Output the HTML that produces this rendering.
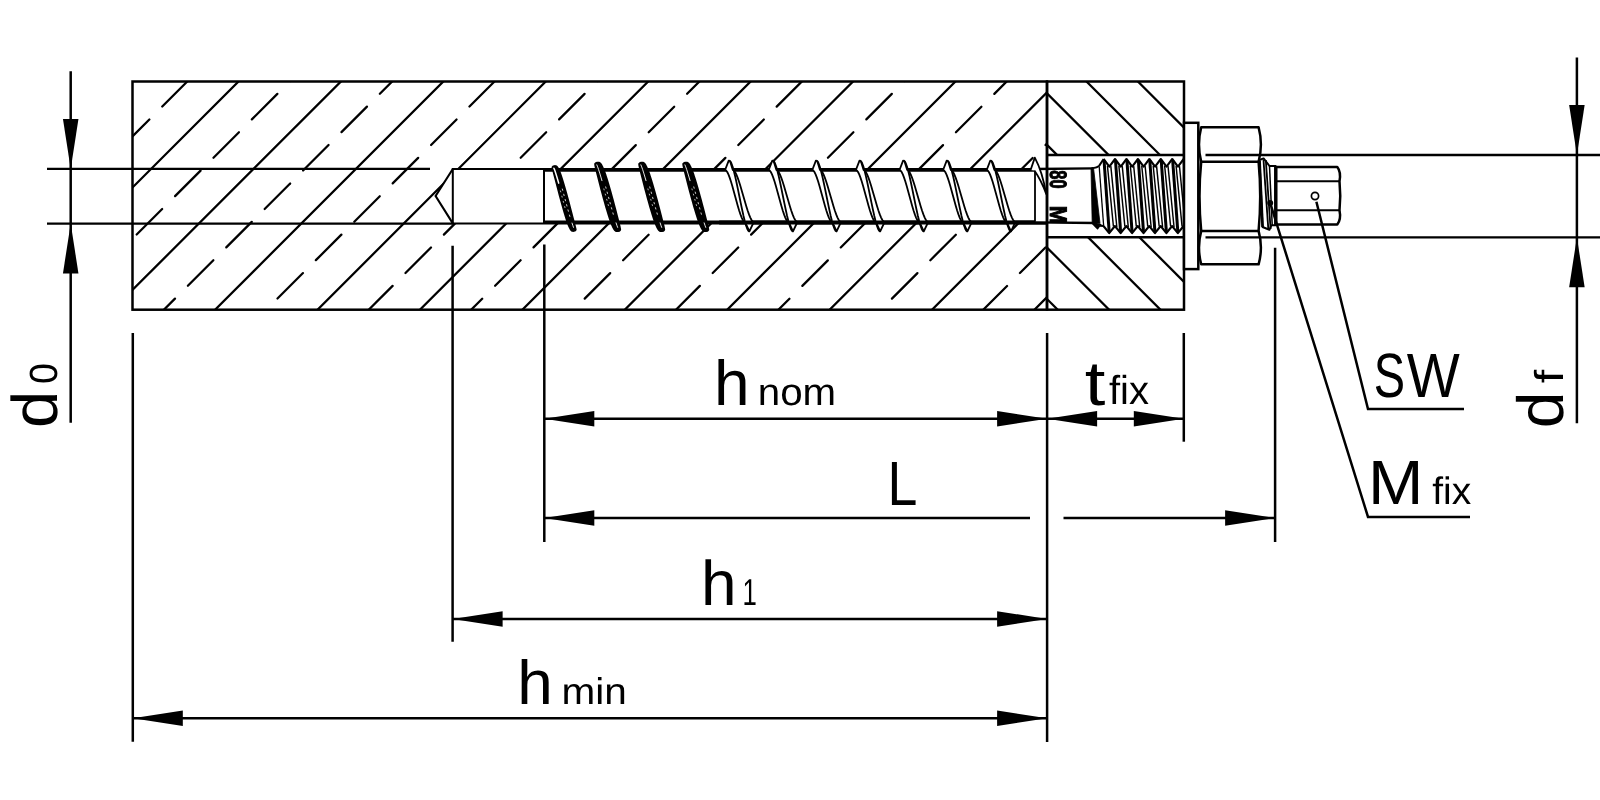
<!DOCTYPE html>
<html lang="en"><head><meta charset="utf-8"><title>Anchor installation parameters</title>
<style>html,body{margin:0;padding:0;background:#fff}svg{display:block;will-change:transform}text{font-family:"Liberation Sans",sans-serif;fill:#000;stroke:none;text-rendering:geometricPrecision}</style>
</head><body>
<svg width="1600" height="800" viewBox="0 0 1600 800" stroke="#000" fill="none" stroke-linecap="butt">
<rect x="0" y="0" width="1600" height="800" fill="#fff" stroke="none"/>
<defs>
<clipPath id="cc"><path clip-rule="evenodd" d="M132.5,81.5H1047.0V309.7H132.5Z M435.6,196.0L452.8,169.0H1047.0V223.4H452.8Z"/></clipPath>
<clipPath id="cf"><path clip-rule="evenodd" d="M1047.0,81.5H1184.0V309.7H1047.0Z M1047.0,155.0H1184.0V237.2H1047.0Z"/></clipPath>
</defs>
<g clip-path="url(#cc)" stroke-linecap="round">
<line x1="5.30" y1="314.70" x2="243.50" y2="76.50" stroke-width="2.25"/>
<line x1="107.72" y1="314.70" x2="345.92" y2="76.50" stroke-width="2.25"/>
<line x1="210.14" y1="314.70" x2="448.34" y2="76.50" stroke-width="2.25"/>
<line x1="312.56" y1="314.70" x2="550.76" y2="76.50" stroke-width="2.25"/>
<line x1="414.98" y1="314.70" x2="653.18" y2="76.50" stroke-width="2.25"/>
<line x1="517.40" y1="314.70" x2="755.60" y2="76.50" stroke-width="2.25"/>
<line x1="619.82" y1="314.70" x2="858.02" y2="76.50" stroke-width="2.25"/>
<line x1="722.24" y1="314.70" x2="960.44" y2="76.50" stroke-width="2.25"/>
<line x1="824.66" y1="314.70" x2="1062.86" y2="76.50" stroke-width="2.25"/>
<line x1="927.08" y1="314.70" x2="1165.28" y2="76.50" stroke-width="2.25"/>
<line x1="1029.50" y1="314.70" x2="1267.70" y2="76.50" stroke-width="2.25"/>
<line x1="-285.77" y1="349.73" x2="-260.27" y2="324.23" stroke-width="2.25"/>
<line x1="-247.37" y1="311.32" x2="-221.87" y2="285.82" stroke-width="2.25"/>
<line x1="-208.97" y1="272.93" x2="-183.47" y2="247.43" stroke-width="2.25"/>
<line x1="-170.57" y1="234.53" x2="-145.07" y2="209.03" stroke-width="2.25"/>
<line x1="-132.17" y1="196.12" x2="-106.67" y2="170.62" stroke-width="2.25"/>
<line x1="-93.77" y1="157.73" x2="-68.27" y2="132.23" stroke-width="2.25"/>
<line x1="-55.37" y1="119.33" x2="-29.87" y2="93.83" stroke-width="2.25"/>
<line x1="-16.97" y1="80.92" x2="8.53" y2="55.42" stroke-width="2.25"/>
<line x1="21.43" y1="42.53" x2="46.93" y2="17.03" stroke-width="2.25"/>
<line x1="-196.16" y1="362.53" x2="-170.66" y2="337.03" stroke-width="2.25"/>
<line x1="-157.76" y1="324.13" x2="-132.26" y2="298.63" stroke-width="2.25"/>
<line x1="-119.37" y1="285.74" x2="-93.87" y2="260.24" stroke-width="2.25"/>
<line x1="-80.96" y1="247.33" x2="-55.46" y2="221.83" stroke-width="2.25"/>
<line x1="-42.56" y1="208.94" x2="-17.06" y2="183.44" stroke-width="2.25"/>
<line x1="-4.16" y1="170.53" x2="21.34" y2="145.03" stroke-width="2.25"/>
<line x1="34.24" y1="132.13" x2="59.74" y2="106.63" stroke-width="2.25"/>
<line x1="72.64" y1="93.73" x2="98.14" y2="68.23" stroke-width="2.25"/>
<line x1="111.03" y1="55.34" x2="136.53" y2="29.84" stroke-width="2.25"/>
<line x1="-106.55" y1="375.35" x2="-81.05" y2="349.85" stroke-width="2.25"/>
<line x1="-68.16" y1="336.95" x2="-42.66" y2="311.45" stroke-width="2.25"/>
<line x1="-29.75" y1="298.54" x2="-4.25" y2="273.04" stroke-width="2.25"/>
<line x1="8.65" y1="260.14" x2="34.15" y2="234.65" stroke-width="2.25"/>
<line x1="47.05" y1="221.75" x2="72.55" y2="196.25" stroke-width="2.25"/>
<line x1="85.45" y1="183.34" x2="110.95" y2="157.84" stroke-width="2.25"/>
<line x1="123.85" y1="144.94" x2="149.35" y2="119.45" stroke-width="2.25"/>
<line x1="162.25" y1="106.55" x2="187.75" y2="81.05" stroke-width="2.25"/>
<line x1="200.65" y1="68.15" x2="226.15" y2="42.65" stroke-width="2.25"/>
<line x1="21.46" y1="349.75" x2="46.96" y2="324.25" stroke-width="2.25"/>
<line x1="59.86" y1="311.36" x2="85.36" y2="285.86" stroke-width="2.25"/>
<line x1="98.26" y1="272.96" x2="123.76" y2="247.46" stroke-width="2.25"/>
<line x1="136.66" y1="234.56" x2="162.16" y2="209.06" stroke-width="2.25"/>
<line x1="175.06" y1="196.16" x2="200.56" y2="170.66" stroke-width="2.25"/>
<line x1="213.46" y1="157.76" x2="238.96" y2="132.26" stroke-width="2.25"/>
<line x1="251.86" y1="119.36" x2="277.36" y2="93.86" stroke-width="2.25"/>
<line x1="290.25" y1="80.96" x2="315.75" y2="55.46" stroke-width="2.25"/>
<line x1="328.66" y1="42.56" x2="354.16" y2="17.06" stroke-width="2.25"/>
<line x1="111.06" y1="362.56" x2="136.56" y2="337.06" stroke-width="2.25"/>
<line x1="149.47" y1="324.16" x2="174.97" y2="298.66" stroke-width="2.25"/>
<line x1="187.87" y1="285.76" x2="213.37" y2="260.26" stroke-width="2.25"/>
<line x1="226.26" y1="247.37" x2="251.76" y2="221.87" stroke-width="2.25"/>
<line x1="264.67" y1="208.97" x2="290.17" y2="183.47" stroke-width="2.25"/>
<line x1="303.06" y1="170.56" x2="328.56" y2="145.06" stroke-width="2.25"/>
<line x1="341.47" y1="132.16" x2="366.97" y2="106.66" stroke-width="2.25"/>
<line x1="379.87" y1="93.76" x2="405.37" y2="68.26" stroke-width="2.25"/>
<line x1="418.26" y1="55.37" x2="443.76" y2="29.87" stroke-width="2.25"/>
<line x1="200.67" y1="375.38" x2="226.17" y2="349.88" stroke-width="2.25"/>
<line x1="239.07" y1="336.97" x2="264.57" y2="311.47" stroke-width="2.25"/>
<line x1="277.47" y1="298.57" x2="302.97" y2="273.07" stroke-width="2.25"/>
<line x1="315.88" y1="260.17" x2="341.38" y2="234.67" stroke-width="2.25"/>
<line x1="354.27" y1="221.77" x2="379.77" y2="196.27" stroke-width="2.25"/>
<line x1="392.67" y1="183.37" x2="418.17" y2="157.87" stroke-width="2.25"/>
<line x1="431.07" y1="144.97" x2="456.57" y2="119.47" stroke-width="2.25"/>
<line x1="469.47" y1="106.57" x2="494.97" y2="81.07" stroke-width="2.25"/>
<line x1="507.88" y1="68.17" x2="533.38" y2="42.67" stroke-width="2.25"/>
<line x1="328.69" y1="349.79" x2="354.19" y2="324.29" stroke-width="2.25"/>
<line x1="367.09" y1="311.38" x2="392.59" y2="285.88" stroke-width="2.25"/>
<line x1="405.49" y1="272.99" x2="430.99" y2="247.49" stroke-width="2.25"/>
<line x1="443.88" y1="234.59" x2="469.38" y2="209.09" stroke-width="2.25"/>
<line x1="482.29" y1="196.19" x2="507.79" y2="170.69" stroke-width="2.25"/>
<line x1="520.68" y1="157.79" x2="546.18" y2="132.29" stroke-width="2.25"/>
<line x1="559.09" y1="119.39" x2="584.59" y2="93.89" stroke-width="2.25"/>
<line x1="597.49" y1="80.99" x2="622.99" y2="55.49" stroke-width="2.25"/>
<line x1="635.88" y1="42.59" x2="661.38" y2="17.09" stroke-width="2.25"/>
<line x1="418.30" y1="362.60" x2="443.80" y2="337.10" stroke-width="2.25"/>
<line x1="456.70" y1="324.20" x2="482.20" y2="298.70" stroke-width="2.25"/>
<line x1="495.10" y1="285.80" x2="520.60" y2="260.30" stroke-width="2.25"/>
<line x1="533.50" y1="247.40" x2="559.00" y2="221.90" stroke-width="2.25"/>
<line x1="571.89" y1="209.00" x2="597.39" y2="183.50" stroke-width="2.25"/>
<line x1="610.30" y1="170.60" x2="635.80" y2="145.10" stroke-width="2.25"/>
<line x1="648.70" y1="132.20" x2="674.20" y2="106.70" stroke-width="2.25"/>
<line x1="687.10" y1="93.80" x2="712.60" y2="68.30" stroke-width="2.25"/>
<line x1="725.50" y1="55.40" x2="751.00" y2="29.90" stroke-width="2.25"/>
<line x1="507.90" y1="375.40" x2="533.40" y2="349.90" stroke-width="2.25"/>
<line x1="546.30" y1="337.00" x2="571.80" y2="311.50" stroke-width="2.25"/>
<line x1="584.70" y1="298.60" x2="610.20" y2="273.10" stroke-width="2.25"/>
<line x1="623.11" y1="260.20" x2="648.61" y2="234.70" stroke-width="2.25"/>
<line x1="661.50" y1="221.80" x2="687.00" y2="196.30" stroke-width="2.25"/>
<line x1="699.90" y1="183.40" x2="725.40" y2="157.90" stroke-width="2.25"/>
<line x1="738.30" y1="145.00" x2="763.80" y2="119.50" stroke-width="2.25"/>
<line x1="776.70" y1="106.60" x2="802.20" y2="81.10" stroke-width="2.25"/>
<line x1="815.11" y1="68.20" x2="840.61" y2="42.70" stroke-width="2.25"/>
<line x1="635.91" y1="349.81" x2="661.41" y2="324.31" stroke-width="2.25"/>
<line x1="674.32" y1="311.42" x2="699.82" y2="285.92" stroke-width="2.25"/>
<line x1="712.72" y1="273.01" x2="738.22" y2="247.52" stroke-width="2.25"/>
<line x1="751.12" y1="234.62" x2="776.62" y2="209.12" stroke-width="2.25"/>
<line x1="789.51" y1="196.22" x2="815.01" y2="170.72" stroke-width="2.25"/>
<line x1="827.91" y1="157.81" x2="853.41" y2="132.31" stroke-width="2.25"/>
<line x1="866.32" y1="119.42" x2="891.82" y2="93.92" stroke-width="2.25"/>
<line x1="904.71" y1="81.02" x2="930.21" y2="55.52" stroke-width="2.25"/>
<line x1="943.12" y1="42.62" x2="968.62" y2="17.12" stroke-width="2.25"/>
<line x1="725.53" y1="362.63" x2="751.03" y2="337.13" stroke-width="2.25"/>
<line x1="763.93" y1="324.23" x2="789.43" y2="298.73" stroke-width="2.25"/>
<line x1="802.33" y1="285.83" x2="827.83" y2="260.33" stroke-width="2.25"/>
<line x1="840.73" y1="247.43" x2="866.23" y2="221.93" stroke-width="2.25"/>
<line x1="879.12" y1="209.03" x2="904.62" y2="183.53" stroke-width="2.25"/>
<line x1="917.53" y1="170.63" x2="943.03" y2="145.13" stroke-width="2.25"/>
<line x1="955.92" y1="132.23" x2="981.42" y2="106.73" stroke-width="2.25"/>
<line x1="994.33" y1="93.83" x2="1019.83" y2="68.33" stroke-width="2.25"/>
<line x1="1032.72" y1="55.43" x2="1058.22" y2="29.93" stroke-width="2.25"/>
<line x1="815.13" y1="375.43" x2="840.63" y2="349.93" stroke-width="2.25"/>
<line x1="853.53" y1="337.03" x2="879.03" y2="311.53" stroke-width="2.25"/>
<line x1="891.93" y1="298.63" x2="917.43" y2="273.13" stroke-width="2.25"/>
<line x1="930.34" y1="260.23" x2="955.84" y2="234.73" stroke-width="2.25"/>
<line x1="968.73" y1="221.83" x2="994.23" y2="196.33" stroke-width="2.25"/>
<line x1="1007.13" y1="183.44" x2="1032.63" y2="157.94" stroke-width="2.25"/>
<line x1="1045.53" y1="145.03" x2="1071.03" y2="119.53" stroke-width="2.25"/>
<line x1="1083.93" y1="106.63" x2="1109.43" y2="81.13" stroke-width="2.25"/>
<line x1="1122.34" y1="68.24" x2="1147.84" y2="42.74" stroke-width="2.25"/>
<line x1="943.14" y1="349.85" x2="968.64" y2="324.35" stroke-width="2.25"/>
<line x1="981.55" y1="311.44" x2="1007.05" y2="285.94" stroke-width="2.25"/>
<line x1="1019.94" y1="273.05" x2="1045.44" y2="247.55" stroke-width="2.25"/>
<line x1="1058.35" y1="234.65" x2="1083.85" y2="209.15" stroke-width="2.25"/>
<line x1="1096.74" y1="196.25" x2="1122.24" y2="170.75" stroke-width="2.25"/>
<line x1="1135.14" y1="157.85" x2="1160.64" y2="132.35" stroke-width="2.25"/>
<line x1="1173.55" y1="119.45" x2="1199.05" y2="93.95" stroke-width="2.25"/>
<line x1="1211.95" y1="81.04" x2="1237.45" y2="55.54" stroke-width="2.25"/>
<line x1="1250.35" y1="42.64" x2="1275.85" y2="17.14" stroke-width="2.25"/>
</g>
<g clip-path="url(#cf)">
<line x1="824.50" y1="76.50" x2="1062.70" y2="314.70" stroke-width="2.25"/>
<line x1="875.90" y1="76.50" x2="1114.10" y2="314.70" stroke-width="2.25"/>
<line x1="927.30" y1="76.50" x2="1165.50" y2="314.70" stroke-width="2.25"/>
<line x1="978.70" y1="76.50" x2="1216.90" y2="314.70" stroke-width="2.25"/>
<line x1="1030.10" y1="76.50" x2="1268.30" y2="314.70" stroke-width="2.25"/>
<line x1="1081.50" y1="76.50" x2="1319.70" y2="314.70" stroke-width="2.25"/>
<line x1="1132.90" y1="76.50" x2="1371.10" y2="314.70" stroke-width="2.25"/>
<line x1="1184.30" y1="76.50" x2="1422.50" y2="314.70" stroke-width="2.25"/>
</g>
<rect x="132.5" y="81.5" width="914.5" height="228.2" stroke-width="2.5"/>
<rect x="1047.0" y="81.5" width="137.0" height="228.2" stroke-width="2.5"/>
<line x1="1047.00" y1="155.00" x2="1184.00" y2="155.00" stroke-width="2.5"/>
<line x1="1047.00" y1="237.20" x2="1184.00" y2="237.20" stroke-width="2.5"/>
<path d="M1047.0,169.0H452.8V223.4H1047.0" stroke-width="2.0" fill="none"/>
<path d="M452.8,169.0L435.6,196.0L452.8,223.4" stroke-width="2.1" fill="none" stroke-linejoin="miter"/>
<line x1="47.00" y1="168.80" x2="430.00" y2="168.80" stroke-width="2.3"/>
<line x1="47.00" y1="223.70" x2="452.80" y2="223.70" stroke-width="2.3"/>
<path d="M544.0,169.0V223.4" stroke-width="2.0" fill="none"/>
<line x1="544.00" y1="170.40" x2="1035.00" y2="170.40" stroke-width="2.5"/>
<line x1="544.00" y1="221.80" x2="1035.00" y2="221.80" stroke-width="2.5"/>
<line x1="1035.00" y1="170.40" x2="1035.00" y2="221.80" stroke-width="1.8"/>
<line x1="1035.00" y1="169.00" x2="1093.00" y2="168.40" stroke-width="2.3"/>
<line x1="1035.00" y1="222.30" x2="1095.00" y2="223.00" stroke-width="2.3"/>
<path d="M553.30,166.78 L552.86,167.26 L553.01,168.15 L553.35,169.56 L553.83,171.46 L554.44,173.82 L555.16,176.60 L555.98,179.77 L556.88,183.26 L557.86,187.02 L558.90,190.98 L559.98,195.08 L561.10,199.25 L562.24,203.41 L563.38,207.50 L564.52,211.44 L565.64,215.16 L566.72,218.61 L567.77,221.72 L568.77,224.43 L569.72,226.71 L570.61,228.50 L571.45,229.78 L572.28,230.51 L573.50,230.58 L574.90,230.22 L575.34,229.74 L575.19,228.85 L574.85,227.44 L574.37,225.54 L573.76,223.18 L573.04,220.40 L572.22,217.23 L571.32,213.74 L570.34,209.98 L569.30,206.02 L568.22,201.92 L567.10,197.75 L565.96,193.59 L564.82,189.50 L563.68,185.56 L562.56,181.84 L561.48,178.39 L560.43,175.28 L559.43,172.57 L558.48,170.29 L557.59,168.50 L556.75,167.22 L555.92,166.49 L554.70,166.42Z" fill="#000" stroke="#000" stroke-width="2.6" stroke-linejoin="round"/>
<path d="M553.90,168.16 L554.67,170.08 L555.57,172.69 L556.59,175.94 L557.72,179.75 L558.69,183.13" stroke="#fff" stroke-width="1.5" stroke-linecap="round"/>
<path d="M562.22,188.64 L563.55,193.51 L564.90,198.50 L566.25,203.49 L567.58,208.36 L568.86,212.98 L570.08,217.25" stroke="#fff" stroke-width="0.8" stroke-dasharray="2.2 3.2"/>
<path d="M560.35,190.57 L561.69,195.50 L563.04,200.50 L564.39,205.46 L565.70,210.24" stroke="#fff" stroke-width="0.7" stroke-dasharray="1.8 3.6"/>
<path d="M572.03,223.08 L572.80,225.43 L573.49,227.36" stroke="#fff" stroke-width="0.9" stroke-linecap="round"/>
<path d="M596.15,163.38 L595.48,163.93 L595.56,164.90 L595.87,166.40 L596.34,168.42 L596.95,170.92 L597.69,173.88 L598.53,177.23 L599.48,180.92 L600.51,184.90 L601.60,189.09 L602.76,193.42 L603.95,197.82 L605.17,202.22 L606.40,206.53 L607.63,210.69 L608.84,214.62 L610.02,218.26 L611.17,221.54 L612.27,224.40 L613.32,226.79 L614.32,228.67 L615.28,230.01 L616.25,230.76 L617.75,230.78 L619.15,230.42 L619.82,229.87 L619.74,228.90 L619.43,227.40 L618.96,225.38 L618.35,222.88 L617.61,219.92 L616.77,216.57 L615.82,212.88 L614.79,208.90 L613.70,204.71 L612.54,200.38 L611.35,195.97 L610.13,191.58 L608.90,187.27 L607.67,183.11 L606.46,179.18 L605.28,175.54 L604.13,172.26 L603.03,169.40 L601.98,167.01 L600.98,165.13 L600.02,163.79 L599.05,163.04 L597.55,163.02Z" fill="#000" stroke="#000" stroke-width="2.6" stroke-linejoin="round"/>
<path d="M596.83,164.85 L597.65,166.87 L598.62,169.64 L599.71,173.07 L600.91,177.09 L601.95,180.66" stroke="#fff" stroke-width="0.9" stroke-linecap="round"/>
<path d="M605.58,186.49 L607.00,191.63 L608.45,196.90 L609.90,202.17 L611.32,207.31 L612.69,212.20 L613.99,216.71" stroke="#fff" stroke-width="0.8" stroke-dasharray="2.2 3.2"/>
<path d="M603.75,188.52 L605.18,193.73 L606.63,199.02 L608.07,204.25 L609.47,209.31" stroke="#fff" stroke-width="0.7" stroke-dasharray="1.8 3.6"/>
<path d="M616.06,222.87 L616.89,225.35 L617.62,227.39" stroke="#fff" stroke-width="0.9" stroke-linecap="round"/>
<path d="M640.20,163.38 L639.53,163.93 L639.61,164.90 L639.92,166.40 L640.39,168.42 L641.00,170.92 L641.74,173.88 L642.58,177.23 L643.53,180.92 L644.56,184.90 L645.65,189.09 L646.81,193.42 L648.00,197.82 L649.22,202.22 L650.45,206.53 L651.68,210.69 L652.89,214.62 L654.07,218.26 L655.22,221.54 L656.32,224.40 L657.37,226.79 L658.37,228.67 L659.33,230.01 L660.30,230.76 L661.80,230.78 L663.20,230.42 L663.87,229.87 L663.79,228.90 L663.48,227.40 L663.01,225.38 L662.40,222.88 L661.66,219.92 L660.82,216.57 L659.87,212.88 L658.84,208.90 L657.75,204.71 L656.59,200.38 L655.40,195.97 L654.18,191.58 L652.95,187.27 L651.72,183.11 L650.51,179.18 L649.33,175.54 L648.18,172.26 L647.08,169.40 L646.03,167.01 L645.03,165.13 L644.07,163.79 L643.10,163.04 L641.60,163.02Z" fill="#000" stroke="#000" stroke-width="2.6" stroke-linejoin="round"/>
<path d="M640.88,164.85 L641.70,166.87 L642.67,169.64 L643.76,173.07 L644.96,177.09 L646.00,180.66" stroke="#fff" stroke-width="0.9" stroke-linecap="round"/>
<path d="M649.63,186.49 L651.05,191.63 L652.50,196.90 L653.95,202.17 L655.37,207.31 L656.74,212.20 L658.04,216.71" stroke="#fff" stroke-width="0.8" stroke-dasharray="2.2 3.2"/>
<path d="M647.80,188.52 L649.23,193.73 L650.68,199.02 L652.12,204.25 L653.52,209.31" stroke="#fff" stroke-width="0.7" stroke-dasharray="1.8 3.6"/>
<path d="M660.11,222.87 L660.94,225.35 L661.67,227.39" stroke="#fff" stroke-width="0.9" stroke-linecap="round"/>
<path d="M684.25,163.38 L683.58,163.93 L683.66,164.90 L683.97,166.40 L684.44,168.42 L685.05,170.92 L685.79,173.88 L686.63,177.23 L687.58,180.92 L688.61,184.90 L689.70,189.09 L690.86,193.42 L692.05,197.82 L693.27,202.22 L694.50,206.53 L695.73,210.69 L696.94,214.62 L698.12,218.26 L699.27,221.54 L700.37,224.40 L701.42,226.79 L702.42,228.67 L703.38,230.01 L704.35,230.76 L705.85,230.78 L707.25,230.42 L707.92,229.87 L707.84,228.90 L707.53,227.40 L707.06,225.38 L706.45,222.88 L705.71,219.92 L704.87,216.57 L703.92,212.88 L702.89,208.90 L701.80,204.71 L700.64,200.38 L699.45,195.97 L698.23,191.58 L697.00,187.27 L695.77,183.11 L694.56,179.18 L693.38,175.54 L692.23,172.26 L691.13,169.40 L690.08,167.01 L689.08,165.13 L688.12,163.79 L687.15,163.04 L685.65,163.02Z" fill="#000" stroke="#000" stroke-width="2.6" stroke-linejoin="round"/>
<path d="M684.93,164.85 L685.75,166.87 L686.72,169.64 L687.81,173.07 L689.01,177.09 L690.05,180.66" stroke="#fff" stroke-width="0.9" stroke-linecap="round"/>
<path d="M693.68,186.49 L695.10,191.63 L696.55,196.90 L698.00,202.17 L699.42,207.31 L700.79,212.20 L702.09,216.71" stroke="#fff" stroke-width="0.8" stroke-dasharray="2.2 3.2"/>
<path d="M691.85,188.52 L693.28,193.73 L694.73,199.02 L696.17,204.25 L697.57,209.31" stroke="#fff" stroke-width="0.7" stroke-dasharray="1.8 3.6"/>
<path d="M704.16,222.87 L704.99,225.35 L705.72,227.39" stroke="#fff" stroke-width="0.9" stroke-linecap="round"/>
<path d="M725.10,170.00 L729.20,160.60 L732.80,170.00 L733.89,170.50 L735.06,171.98 L736.30,174.38 L737.62,177.62 L738.98,181.56 L740.40,186.05 L741.84,190.93 L743.30,196.00 L744.76,201.07 L746.20,205.95 L747.62,210.44 L748.98,214.38 L750.30,217.62 L751.54,220.02 L752.71,221.50 L753.80,222.00 L749.40,231.40 L745.00,222.00 L743.97,221.50 L742.86,220.02 L741.68,217.62 L740.44,214.38 L739.14,210.44 L737.80,205.95 L736.43,201.07 L735.05,196.00 L733.67,190.93 L732.30,186.05 L730.96,181.56 L729.66,177.62 L728.42,174.38 L727.24,171.98 L726.13,170.50 L725.10,170.00Z" fill="#fff" stroke="none"/>
<path d="M725.10,170.00 L726.13,170.50 L727.24,171.98 L728.42,174.38 L729.66,177.62 L730.96,181.56 L732.30,186.05 L733.67,190.93 L735.05,196.00 L736.43,201.07 L737.80,205.95 L739.14,210.44 L740.44,214.38 L741.68,217.62 L742.86,220.02 L743.97,221.50 L745.00,222.00" stroke-width="1.8" stroke-linejoin="round"/>
<path d="M729.20,160.60 L730.25,161.28 L731.37,163.29 L732.57,166.57 L733.83,170.97 L735.15,176.33 L736.51,182.45 L737.90,189.09 L739.30,196.00 L740.70,202.91 L742.09,209.55 L743.45,215.67 L744.77,221.03 L746.03,225.43 L747.23,228.71 L748.35,230.72 L749.40,231.40" stroke-width="1.8" stroke-linejoin="round"/>
<path d="M730.10,161.20 L732.80,170.00 L733.89,170.50 L735.06,171.98 L736.30,174.38 L737.62,177.62 L738.98,181.56 L740.40,186.05 L741.84,190.93 L743.30,196.00 L744.76,201.07 L746.20,205.95 L747.62,210.44 L748.98,214.38 L750.30,217.62 L751.54,220.02 L752.71,221.50 L753.80,222.00" stroke-width="1.8" stroke-linejoin="round"/>
<path d="M725.10,170.00L728.70,160.60L730.10,161.00" stroke-width="1.8" stroke-linejoin="round"/>
<path d="M745.00,222.00L749.40,231.40L753.80,222.00" stroke-width="1.8" stroke-linejoin="round"/>
<path d="M768.70,170.00 L772.80,160.60 L776.40,170.00 L777.49,170.50 L778.66,171.98 L779.90,174.38 L781.22,177.62 L782.58,181.56 L784.00,186.05 L785.44,190.93 L786.90,196.00 L788.36,201.07 L789.80,205.95 L791.22,210.44 L792.58,214.38 L793.90,217.62 L795.14,220.02 L796.31,221.50 L797.40,222.00 L793.00,231.40 L788.60,222.00 L787.57,221.50 L786.46,220.02 L785.28,217.62 L784.04,214.38 L782.74,210.44 L781.40,205.95 L780.03,201.07 L778.65,196.00 L777.27,190.93 L775.90,186.05 L774.56,181.56 L773.26,177.62 L772.02,174.38 L770.84,171.98 L769.73,170.50 L768.70,170.00Z" fill="#fff" stroke="none"/>
<path d="M768.70,170.00 L769.73,170.50 L770.84,171.98 L772.02,174.38 L773.26,177.62 L774.56,181.56 L775.90,186.05 L777.27,190.93 L778.65,196.00 L780.03,201.07 L781.40,205.95 L782.74,210.44 L784.04,214.38 L785.28,217.62 L786.46,220.02 L787.57,221.50 L788.60,222.00" stroke-width="1.8" stroke-linejoin="round"/>
<path d="M772.80,160.60 L773.85,161.28 L774.97,163.29 L776.17,166.57 L777.43,170.97 L778.75,176.33 L780.11,182.45 L781.50,189.09 L782.90,196.00 L784.30,202.91 L785.69,209.55 L787.05,215.67 L788.37,221.03 L789.63,225.43 L790.83,228.71 L791.95,230.72 L793.00,231.40" stroke-width="1.8" stroke-linejoin="round"/>
<path d="M773.70,161.20 L776.40,170.00 L777.49,170.50 L778.66,171.98 L779.90,174.38 L781.22,177.62 L782.58,181.56 L784.00,186.05 L785.44,190.93 L786.90,196.00 L788.36,201.07 L789.80,205.95 L791.22,210.44 L792.58,214.38 L793.90,217.62 L795.14,220.02 L796.31,221.50 L797.40,222.00" stroke-width="1.8" stroke-linejoin="round"/>
<path d="M768.70,170.00L772.30,160.60L773.70,161.00" stroke-width="1.8" stroke-linejoin="round"/>
<path d="M788.60,222.00L793.00,231.40L797.40,222.00" stroke-width="1.8" stroke-linejoin="round"/>
<path d="M812.30,170.00 L816.40,160.60 L820.00,170.00 L821.09,170.50 L822.26,171.98 L823.50,174.38 L824.82,177.62 L826.18,181.56 L827.60,186.05 L829.04,190.93 L830.50,196.00 L831.96,201.07 L833.40,205.95 L834.82,210.44 L836.18,214.38 L837.50,217.62 L838.74,220.02 L839.91,221.50 L841.00,222.00 L836.60,231.40 L832.20,222.00 L831.17,221.50 L830.06,220.02 L828.88,217.62 L827.64,214.38 L826.34,210.44 L825.00,205.95 L823.63,201.07 L822.25,196.00 L820.87,190.93 L819.50,186.05 L818.16,181.56 L816.86,177.62 L815.62,174.38 L814.44,171.98 L813.33,170.50 L812.30,170.00Z" fill="#fff" stroke="none"/>
<path d="M812.30,170.00 L813.33,170.50 L814.44,171.98 L815.62,174.38 L816.86,177.62 L818.16,181.56 L819.50,186.05 L820.87,190.93 L822.25,196.00 L823.63,201.07 L825.00,205.95 L826.34,210.44 L827.64,214.38 L828.88,217.62 L830.06,220.02 L831.17,221.50 L832.20,222.00" stroke-width="1.8" stroke-linejoin="round"/>
<path d="M816.40,160.60 L817.45,161.28 L818.57,163.29 L819.77,166.57 L821.03,170.97 L822.35,176.33 L823.71,182.45 L825.10,189.09 L826.50,196.00 L827.90,202.91 L829.29,209.55 L830.65,215.67 L831.97,221.03 L833.23,225.43 L834.43,228.71 L835.55,230.72 L836.60,231.40" stroke-width="1.8" stroke-linejoin="round"/>
<path d="M817.30,161.20 L820.00,170.00 L821.09,170.50 L822.26,171.98 L823.50,174.38 L824.82,177.62 L826.18,181.56 L827.60,186.05 L829.04,190.93 L830.50,196.00 L831.96,201.07 L833.40,205.95 L834.82,210.44 L836.18,214.38 L837.50,217.62 L838.74,220.02 L839.91,221.50 L841.00,222.00" stroke-width="1.8" stroke-linejoin="round"/>
<path d="M812.30,170.00L815.90,160.60L817.30,161.00" stroke-width="1.8" stroke-linejoin="round"/>
<path d="M832.20,222.00L836.60,231.40L841.00,222.00" stroke-width="1.8" stroke-linejoin="round"/>
<path d="M855.90,170.00 L860.00,160.60 L863.60,170.00 L864.69,170.50 L865.86,171.98 L867.10,174.38 L868.42,177.62 L869.78,181.56 L871.20,186.05 L872.64,190.93 L874.10,196.00 L875.56,201.07 L877.00,205.95 L878.42,210.44 L879.78,214.38 L881.10,217.62 L882.34,220.02 L883.51,221.50 L884.60,222.00 L880.20,231.40 L875.80,222.00 L874.77,221.50 L873.66,220.02 L872.48,217.62 L871.24,214.38 L869.94,210.44 L868.60,205.95 L867.23,201.07 L865.85,196.00 L864.47,190.93 L863.10,186.05 L861.76,181.56 L860.46,177.62 L859.22,174.38 L858.04,171.98 L856.93,170.50 L855.90,170.00Z" fill="#fff" stroke="none"/>
<path d="M855.90,170.00 L856.93,170.50 L858.04,171.98 L859.22,174.38 L860.46,177.62 L861.76,181.56 L863.10,186.05 L864.47,190.93 L865.85,196.00 L867.23,201.07 L868.60,205.95 L869.94,210.44 L871.24,214.38 L872.48,217.62 L873.66,220.02 L874.77,221.50 L875.80,222.00" stroke-width="1.8" stroke-linejoin="round"/>
<path d="M860.00,160.60 L861.05,161.28 L862.17,163.29 L863.37,166.57 L864.63,170.97 L865.95,176.33 L867.31,182.45 L868.70,189.09 L870.10,196.00 L871.50,202.91 L872.89,209.55 L874.25,215.67 L875.57,221.03 L876.83,225.43 L878.03,228.71 L879.15,230.72 L880.20,231.40" stroke-width="1.8" stroke-linejoin="round"/>
<path d="M860.90,161.20 L863.60,170.00 L864.69,170.50 L865.86,171.98 L867.10,174.38 L868.42,177.62 L869.78,181.56 L871.20,186.05 L872.64,190.93 L874.10,196.00 L875.56,201.07 L877.00,205.95 L878.42,210.44 L879.78,214.38 L881.10,217.62 L882.34,220.02 L883.51,221.50 L884.60,222.00" stroke-width="1.8" stroke-linejoin="round"/>
<path d="M855.90,170.00L859.50,160.60L860.90,161.00" stroke-width="1.8" stroke-linejoin="round"/>
<path d="M875.80,222.00L880.20,231.40L884.60,222.00" stroke-width="1.8" stroke-linejoin="round"/>
<path d="M899.50,170.00 L903.60,160.60 L907.20,170.00 L908.29,170.50 L909.46,171.98 L910.70,174.38 L912.02,177.62 L913.38,181.56 L914.80,186.05 L916.24,190.93 L917.70,196.00 L919.16,201.07 L920.60,205.95 L922.02,210.44 L923.38,214.38 L924.70,217.62 L925.94,220.02 L927.11,221.50 L928.20,222.00 L923.80,231.40 L919.40,222.00 L918.37,221.50 L917.26,220.02 L916.08,217.62 L914.84,214.38 L913.54,210.44 L912.20,205.95 L910.83,201.07 L909.45,196.00 L908.07,190.93 L906.70,186.05 L905.36,181.56 L904.06,177.62 L902.82,174.38 L901.64,171.98 L900.53,170.50 L899.50,170.00Z" fill="#fff" stroke="none"/>
<path d="M899.50,170.00 L900.53,170.50 L901.64,171.98 L902.82,174.38 L904.06,177.62 L905.36,181.56 L906.70,186.05 L908.07,190.93 L909.45,196.00 L910.83,201.07 L912.20,205.95 L913.54,210.44 L914.84,214.38 L916.08,217.62 L917.26,220.02 L918.37,221.50 L919.40,222.00" stroke-width="1.8" stroke-linejoin="round"/>
<path d="M903.60,160.60 L904.65,161.28 L905.77,163.29 L906.97,166.57 L908.23,170.97 L909.55,176.33 L910.91,182.45 L912.30,189.09 L913.70,196.00 L915.10,202.91 L916.49,209.55 L917.85,215.67 L919.17,221.03 L920.43,225.43 L921.63,228.71 L922.75,230.72 L923.80,231.40" stroke-width="1.8" stroke-linejoin="round"/>
<path d="M904.50,161.20 L907.20,170.00 L908.29,170.50 L909.46,171.98 L910.70,174.38 L912.02,177.62 L913.38,181.56 L914.80,186.05 L916.24,190.93 L917.70,196.00 L919.16,201.07 L920.60,205.95 L922.02,210.44 L923.38,214.38 L924.70,217.62 L925.94,220.02 L927.11,221.50 L928.20,222.00" stroke-width="1.8" stroke-linejoin="round"/>
<path d="M899.50,170.00L903.10,160.60L904.50,161.00" stroke-width="1.8" stroke-linejoin="round"/>
<path d="M919.40,222.00L923.80,231.40L928.20,222.00" stroke-width="1.8" stroke-linejoin="round"/>
<path d="M943.10,170.00 L947.20,160.60 L950.80,170.00 L951.89,170.50 L953.06,171.98 L954.30,174.38 L955.62,177.62 L956.98,181.56 L958.40,186.05 L959.84,190.93 L961.30,196.00 L962.76,201.07 L964.20,205.95 L965.62,210.44 L966.98,214.38 L968.30,217.62 L969.54,220.02 L970.71,221.50 L971.80,222.00 L967.40,231.40 L963.00,222.00 L961.97,221.50 L960.86,220.02 L959.68,217.62 L958.44,214.38 L957.14,210.44 L955.80,205.95 L954.43,201.07 L953.05,196.00 L951.67,190.93 L950.30,186.05 L948.96,181.56 L947.66,177.62 L946.42,174.38 L945.24,171.98 L944.13,170.50 L943.10,170.00Z" fill="#fff" stroke="none"/>
<path d="M943.10,170.00 L944.13,170.50 L945.24,171.98 L946.42,174.38 L947.66,177.62 L948.96,181.56 L950.30,186.05 L951.67,190.93 L953.05,196.00 L954.43,201.07 L955.80,205.95 L957.14,210.44 L958.44,214.38 L959.68,217.62 L960.86,220.02 L961.97,221.50 L963.00,222.00" stroke-width="1.8" stroke-linejoin="round"/>
<path d="M947.20,160.60 L948.25,161.28 L949.37,163.29 L950.57,166.57 L951.83,170.97 L953.15,176.33 L954.51,182.45 L955.90,189.09 L957.30,196.00 L958.70,202.91 L960.09,209.55 L961.45,215.67 L962.77,221.03 L964.03,225.43 L965.23,228.71 L966.35,230.72 L967.40,231.40" stroke-width="1.8" stroke-linejoin="round"/>
<path d="M948.10,161.20 L950.80,170.00 L951.89,170.50 L953.06,171.98 L954.30,174.38 L955.62,177.62 L956.98,181.56 L958.40,186.05 L959.84,190.93 L961.30,196.00 L962.76,201.07 L964.20,205.95 L965.62,210.44 L966.98,214.38 L968.30,217.62 L969.54,220.02 L970.71,221.50 L971.80,222.00" stroke-width="1.8" stroke-linejoin="round"/>
<path d="M943.10,170.00L946.70,160.60L948.10,161.00" stroke-width="1.8" stroke-linejoin="round"/>
<path d="M963.00,222.00L967.40,231.40L971.80,222.00" stroke-width="1.8" stroke-linejoin="round"/>
<path d="M986.70,170.00 L990.80,160.60 L994.40,170.00 L995.49,170.50 L996.66,171.98 L997.90,174.38 L999.22,177.62 L1000.58,181.56 L1002.00,186.05 L1003.44,190.93 L1004.90,196.00 L1006.36,201.07 L1007.80,205.95 L1009.22,210.44 L1010.58,214.38 L1011.90,217.62 L1013.14,220.02 L1014.31,221.50 L1015.40,222.00 L1011.00,231.40 L1006.60,222.00 L1005.57,221.50 L1004.46,220.02 L1003.28,217.62 L1002.04,214.38 L1000.74,210.44 L999.40,205.95 L998.03,201.07 L996.65,196.00 L995.27,190.93 L993.90,186.05 L992.56,181.56 L991.26,177.62 L990.02,174.38 L988.84,171.98 L987.73,170.50 L986.70,170.00Z" fill="#fff" stroke="none"/>
<path d="M986.70,170.00 L987.73,170.50 L988.84,171.98 L990.02,174.38 L991.26,177.62 L992.56,181.56 L993.90,186.05 L995.27,190.93 L996.65,196.00 L998.03,201.07 L999.40,205.95 L1000.74,210.44 L1002.04,214.38 L1003.28,217.62 L1004.46,220.02 L1005.57,221.50 L1006.60,222.00" stroke-width="1.8" stroke-linejoin="round"/>
<path d="M990.80,160.60 L991.85,161.28 L992.97,163.29 L994.17,166.57 L995.43,170.97 L996.75,176.33 L998.11,182.45 L999.50,189.09 L1000.90,196.00 L1002.30,202.91 L1003.69,209.55 L1005.05,215.67 L1006.37,221.03 L1007.63,225.43 L1008.83,228.71 L1009.95,230.72 L1011.00,231.40" stroke-width="1.8" stroke-linejoin="round"/>
<path d="M991.70,161.20 L994.40,170.00 L995.49,170.50 L996.66,171.98 L997.90,174.38 L999.22,177.62 L1000.58,181.56 L1002.00,186.05 L1003.44,190.93 L1004.90,196.00 L1006.36,201.07 L1007.80,205.95 L1009.22,210.44 L1010.58,214.38 L1011.90,217.62 L1013.14,220.02 L1014.31,221.50 L1015.40,222.00" stroke-width="1.8" stroke-linejoin="round"/>
<path d="M986.70,170.00L990.30,160.60L991.70,161.00" stroke-width="1.8" stroke-linejoin="round"/>
<path d="M1006.60,222.00L1011.00,231.40L1015.40,222.00" stroke-width="1.8" stroke-linejoin="round"/>
<line x1="719.20" y1="221.80" x2="1035.00" y2="221.80" stroke-width="2.5"/>
<line x1="719.20" y1="223.40" x2="1047.00" y2="223.40" stroke-width="2.0"/>
<path d="M1030.6,170 L1034.8,157.6 Q1042.5,172 1046.2,194 Q1041,180 1034.4,170.6" stroke-width="1.8" fill="#fff" stroke-linejoin="round"/>
<text transform="rotate(90)" font-weight="bold" style="stroke:#000;stroke-width:1.0px"><tspan x="170.37" y="-1049.60" font-size="23.78" textLength="18.31" lengthAdjust="spacingAndGlyphs">80</tspan><tspan x="205.73" y="-1049.60" font-size="24.13" textLength="18.23" lengthAdjust="spacingAndGlyphs">M</tspan></text>
<defs><clipPath id="mt"><rect x="1080" y="150" width="103.0" height="92"/></clipPath></defs>
<g clip-path="url(#mt)">
<path d="M1091.0,168.6 L1093.6,168.6 L1100.0,223.2 L1092.2,223.2 Z" fill="#000" stroke="#000" stroke-width="0.8" stroke-linejoin="round"/>
<path d="M1091.5,168.3 Q1097.5,167.6 1099.3,165.6 L1103.60,159.0" stroke-width="2.0" stroke-linejoin="round"/>
<path d="M1092.0,223 L1097.6,228.6 L1100.6,224.6 Z" stroke-width="1.6" fill="#000" stroke-linejoin="round"/>
<line x1="1099.20" y1="166.50" x2="1103.60" y2="225.00" stroke-width="1.3"/>
<path d="M1103.60,159.00 L1109.32,166.60 L1115.04,159.00 L1120.76,166.60 L1126.48,159.00 L1132.20,166.60 L1137.92,159.00 L1143.64,166.60 L1149.36,159.00 L1155.08,166.60 L1160.80,159.00 L1166.52,166.60 L1172.24,159.00 L1177.96,166.60 L1183.68,159.00 L1189.40,166.60 L1195.12,159.00 L1200.84,166.60" stroke-width="2.1" stroke-linejoin="round"/>
<path d="M1099.80,225.60 L1103.48,226.00 L1109.20,233.20 L1114.92,226.00 L1120.64,233.20 L1126.36,226.00 L1132.08,233.20 L1137.80,226.00 L1143.52,233.20 L1149.24,226.00 L1154.96,233.20 L1160.68,226.00 L1166.40,233.20 L1172.12,226.00 L1177.84,233.20 L1183.56,226.00 L1189.28,233.20 L1195.00,226.00 L1200.72,233.20" stroke-width="2.1" stroke-linejoin="round"/>
<line x1="1104.00" y1="160.00" x2="1109.20" y2="232.20" stroke-width="3.0"/>
<line x1="1107.42" y1="165.60" x2="1113.42" y2="226.50" stroke-width="1.45"/>
<line x1="1110.82" y1="166.10" x2="1116.82" y2="227.00" stroke-width="1.45"/>
<line x1="1115.44" y1="160.00" x2="1120.64" y2="232.20" stroke-width="3.0"/>
<line x1="1118.86" y1="165.60" x2="1124.86" y2="226.50" stroke-width="1.45"/>
<line x1="1122.26" y1="166.10" x2="1128.26" y2="227.00" stroke-width="1.45"/>
<line x1="1126.88" y1="160.00" x2="1132.08" y2="232.20" stroke-width="3.0"/>
<line x1="1130.30" y1="165.60" x2="1136.30" y2="226.50" stroke-width="1.45"/>
<line x1="1133.70" y1="166.10" x2="1139.70" y2="227.00" stroke-width="1.45"/>
<line x1="1138.32" y1="160.00" x2="1143.52" y2="232.20" stroke-width="3.0"/>
<line x1="1141.74" y1="165.60" x2="1147.74" y2="226.50" stroke-width="1.45"/>
<line x1="1145.14" y1="166.10" x2="1151.14" y2="227.00" stroke-width="1.45"/>
<line x1="1149.76" y1="160.00" x2="1154.96" y2="232.20" stroke-width="3.0"/>
<line x1="1153.18" y1="165.60" x2="1159.18" y2="226.50" stroke-width="1.45"/>
<line x1="1156.58" y1="166.10" x2="1162.58" y2="227.00" stroke-width="1.45"/>
<line x1="1161.20" y1="160.00" x2="1166.40" y2="232.20" stroke-width="3.0"/>
<line x1="1164.62" y1="165.60" x2="1170.62" y2="226.50" stroke-width="1.45"/>
<line x1="1168.02" y1="166.10" x2="1174.02" y2="227.00" stroke-width="1.45"/>
<line x1="1172.64" y1="160.00" x2="1177.84" y2="232.20" stroke-width="3.0"/>
<line x1="1176.06" y1="165.60" x2="1182.06" y2="226.50" stroke-width="1.45"/>
<line x1="1179.46" y1="166.10" x2="1185.46" y2="227.00" stroke-width="1.45"/>
<line x1="1184.08" y1="160.00" x2="1189.28" y2="232.20" stroke-width="3.0"/>
<line x1="1187.50" y1="165.60" x2="1193.50" y2="226.50" stroke-width="1.45"/>
<line x1="1190.90" y1="166.10" x2="1196.90" y2="227.00" stroke-width="1.45"/>
<line x1="1195.52" y1="160.00" x2="1200.72" y2="232.20" stroke-width="3.0"/>
<line x1="1198.94" y1="165.60" x2="1204.94" y2="226.50" stroke-width="1.45"/>
<line x1="1202.34" y1="166.10" x2="1208.34" y2="227.00" stroke-width="1.45"/>
</g>
<rect x="1184.0" y="122.8" width="14.3" height="146.3" stroke-width="2.5" fill="#fff"/>
<path d="M1201.2,127.3H1258.6 Q1263.1999999999998,144.5 1258.6,161.7 Q1261.8,196.0 1258.6,230.9 Q1263.1999999999998,247.60000000000002 1258.6,264.3 H1201.2 Q1196.8000000000002,247.60000000000002 1201.2,230.9 Q1197.8000000000002,196.0 1201.2,161.7 Q1196.8000000000002,144.5 1201.2,127.3Z" stroke-width="2.5" fill="#fff" stroke-linejoin="round"/>
<line x1="1201.20" y1="161.70" x2="1258.60" y2="161.70" stroke-width="2.5"/>
<line x1="1201.20" y1="230.90" x2="1258.60" y2="230.90" stroke-width="2.5"/>
<path d="M1259.5,160 L1263.6,158.4 L1269.5,166 L1275.6,166 V225.2 H1271.5 L1269.4,229.8 L1262.5,227 Z" fill="#fff" stroke-width="2.0" stroke-linejoin="round"/>
<line x1="1259.60" y1="161.00" x2="1262.60" y2="227.00" stroke-width="2.6"/>
<line x1="1263.50" y1="160.00" x2="1268.30" y2="229.00" stroke-width="1.8"/>
<line x1="1265.80" y1="160.00" x2="1270.60" y2="229.00" stroke-width="1.8"/>
<line x1="1269.50" y1="166.00" x2="1272.20" y2="225.00" stroke-width="1.5"/>
<path d="M1275.8,167.0H1337.3 Q1341.3,172.15 1339.5,181.3 Q1341.0,196.0 1339.5,210.3 Q1341.3,219.45 1337.3,224.6 H1275.8Z" fill="#fff" stroke-width="2.5" stroke-linejoin="round"/>
<line x1="1275.80" y1="167.00" x2="1275.80" y2="224.60" stroke-width="3.4"/>
<line x1="1275.80" y1="181.30" x2="1339.50" y2="181.30" stroke-width="2.0"/>
<line x1="1275.80" y1="210.30" x2="1339.50" y2="210.30" stroke-width="2.0"/>
<circle cx="1315" cy="196" r="3.6" stroke-width="1.7" fill="#fff"/>
<circle cx="1270.2" cy="203.0" r="3.0" fill="#000" stroke="none"/>
<line x1="1205.50" y1="155.00" x2="1600.00" y2="155.00" stroke-width="2.4"/>
<line x1="1205.50" y1="237.40" x2="1600.00" y2="237.40" stroke-width="2.4"/>
<path d="M1316.4,201.8 L1368,409.1 H1464" stroke-width="2.5" fill="none" stroke-linejoin="miter"/>
<path d="M1270.5,204 L1368,516.9 H1470" stroke-width="2.5" fill="none" stroke-linejoin="miter"/>
<line x1="70.70" y1="71.30" x2="70.70" y2="422.80" stroke-width="2.5"/>
<polygon points="70.70,169.00 62.95,119.00 78.45,119.00" fill="#000" stroke="none"/>
<polygon points="70.70,223.40 78.45,273.40 62.95,273.40" fill="#000" stroke="none"/>
<line x1="1576.90" y1="57.50" x2="1576.90" y2="423.30" stroke-width="2.5"/>
<polygon points="1576.90,155.00 1569.15,105.00 1584.65,105.00" fill="#000" stroke="none"/>
<polygon points="1576.90,237.20 1584.65,287.20 1569.15,287.20" fill="#000" stroke="none"/>
<line x1="132.80" y1="333.00" x2="132.80" y2="741.80" stroke-width="2.5"/>
<line x1="452.60" y1="245.80" x2="452.60" y2="641.70" stroke-width="2.5"/>
<line x1="544.30" y1="244.50" x2="544.30" y2="542.00" stroke-width="2.5"/>
<line x1="1047.10" y1="333.00" x2="1047.10" y2="742.00" stroke-width="2.5"/>
<line x1="1183.80" y1="333.00" x2="1183.80" y2="441.70" stroke-width="2.5"/>
<line x1="1275.10" y1="247.70" x2="1275.10" y2="542.00" stroke-width="2.5"/>
<line x1="544.30" y1="418.70" x2="1183.80" y2="418.70" stroke-width="2.5"/>
<polygon points="544.30,418.70 594.30,410.95 594.30,426.45" fill="#000" stroke="none"/>
<polygon points="1047.10,418.70 997.10,426.45 997.10,410.95" fill="#000" stroke="none"/>
<polygon points="1047.10,418.70 1097.10,410.95 1097.10,426.45" fill="#000" stroke="none"/>
<polygon points="1183.80,418.70 1133.80,426.45 1133.80,410.95" fill="#000" stroke="none"/>
<line x1="544.30" y1="518.10" x2="1030.00" y2="518.10" stroke-width="2.5"/>
<line x1="1063.50" y1="518.10" x2="1275.10" y2="518.10" stroke-width="2.5"/>
<polygon points="544.30,518.10 594.30,510.35 594.30,525.85" fill="#000" stroke="none"/>
<polygon points="1275.10,518.10 1225.10,525.85 1225.10,510.35" fill="#000" stroke="none"/>
<line x1="452.60" y1="618.90" x2="1047.10" y2="618.90" stroke-width="2.5"/>
<polygon points="452.60,618.90 502.60,611.15 502.60,626.65" fill="#000" stroke="none"/>
<polygon points="1047.10,618.90 997.10,626.65 997.10,611.15" fill="#000" stroke="none"/>
<line x1="132.80" y1="718.30" x2="1047.10" y2="718.30" stroke-width="2.5"/>
<polygon points="132.80,718.30 182.80,710.55 182.80,726.05" fill="#000" stroke="none"/>
<polygon points="1047.10,718.30 997.10,726.05 997.10,710.55" fill="#000" stroke="none"/>
<text><tspan x="714.09" y="404.50" font-size="63.45" textLength="35.58" lengthAdjust="spacingAndGlyphs">h</tspan><tspan x="757.84" y="404.50" font-size="38.10" textLength="78.33" lengthAdjust="spacingAndGlyphs">nom</tspan></text>
<text><tspan x="1084.89" y="404.50" font-size="62.69" textLength="20.62" lengthAdjust="spacingAndGlyphs">t</tspan><tspan x="1108.94" y="404.30" font-size="40.47" textLength="40.00" lengthAdjust="spacingAndGlyphs">fix</tspan></text>
<text><tspan x="887.49" y="504.80" font-size="62.35" textLength="29.89" lengthAdjust="spacingAndGlyphs">L</tspan></text>
<text><tspan x="700.99" y="604.90" font-size="63.31" textLength="35.58" lengthAdjust="spacingAndGlyphs">h</tspan><tspan x="742.44" y="604.90" font-size="37.50" textLength="14.32" lengthAdjust="spacingAndGlyphs">1</tspan></text>
<text><tspan x="517.39" y="704.40" font-size="62.07" textLength="35.58" lengthAdjust="spacingAndGlyphs">h</tspan><tspan x="561.52" y="704.40" font-size="37.17" textLength="65.32" lengthAdjust="spacingAndGlyphs">min</tspan></text>
<text><tspan x="1373.84" y="397.10" font-size="62.75" textLength="31.32" lengthAdjust="spacingAndGlyphs">S</tspan><tspan x="1406.72" y="397.00" font-size="62.50" textLength="53.00" lengthAdjust="spacingAndGlyphs">W</tspan></text>
<text><tspan x="1368.05" y="503.50" font-size="62.50" textLength="55.41" lengthAdjust="spacingAndGlyphs">M</tspan><tspan x="1432.25" y="504.30" font-size="38.40" textLength="38.97" lengthAdjust="spacingAndGlyphs">fix</tspan></text>
<text transform="rotate(-90)"><tspan x="-428.02" y="56.80" font-size="64.41" textLength="37.32" lengthAdjust="spacingAndGlyphs">d</tspan><tspan x="-384.07" y="57.20" font-size="39.26" textLength="20.94" lengthAdjust="spacingAndGlyphs">0</tspan></text>
<text transform="rotate(-90)"><tspan x="-428.18" y="1563.00" font-size="65.10" textLength="36.83" lengthAdjust="spacingAndGlyphs">d</tspan><tspan x="-383.28" y="1563.00" font-size="40.33" textLength="13.52" lengthAdjust="spacingAndGlyphs">f</tspan></text>
</svg></body></html>
